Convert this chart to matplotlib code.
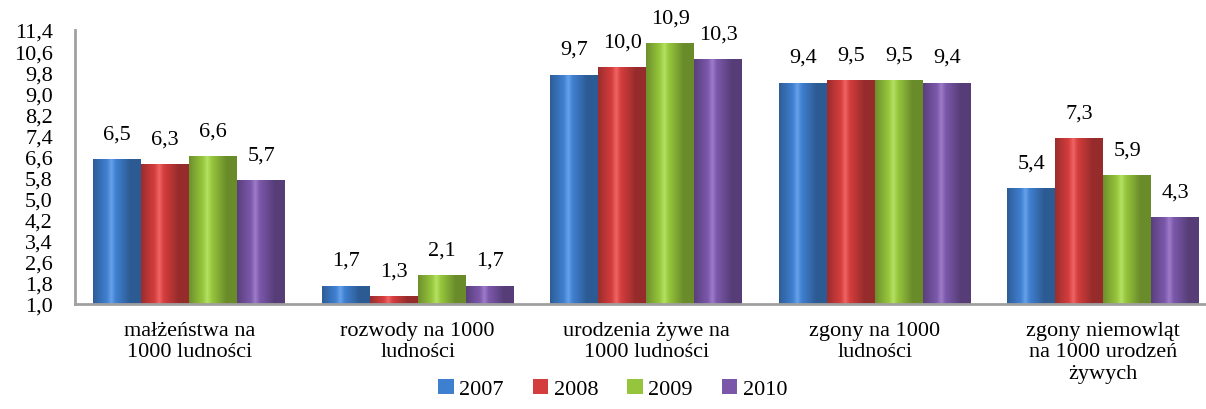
import numpy as np
from matplotlib import pyplot as plt
from matplotlib.colors import to_rgb
from matplotlib.patches import Patch

# Data
categories = ['małżeństwa na\n1000 ludności', 'rozwody na 1000\nludności',
              'urodzenia żywe na\n1000 ludności', 'zgony na 1000\nludności',
              'zgony niemowląt\nna 1000 urodzeń\nżywych']
years = ['2007', '2008', '2009', '2010']
v2007 = [6.5, 1.7, 9.7, 9.4, 5.4]
v2008 = [6.3, 1.3, 10.0, 9.5, 7.3]
v2009 = [6.6, 2.1, 10.9, 9.5, 5.9]
v2010 = [5.7, 1.7, 10.3, 9.4, 4.3]
series = [v2007, v2008, v2009, v2010]
yticks = np.round(np.arange(1.0, 11.41, 0.8), 1)

colors = ['#3f7fcf', '#d43d3d', '#95c53c', '#7b57aa']
base = 1.0

plt.rcParams['font.family'] = ['Liberation Serif', 'DejaVu Serif']

fig = plt.figure(figsize=(12.06, 4.10), dpi=100)
ax = fig.add_axes([75/1206, 1 - 305/410, 1131/1206, 274/410])

def shade(color):
	# horizontal cylinder-like gradient
	c = np.array(to_rgb(color))
	t = np.linspace(0, 1, 64)
	light = 1 - 1.6 * np.abs(t - 0.38)
	light = np.clip(light, 0.35, 1.0)
	rgb = np.empty((1, 64, 3))
	for i in range(64):
		f = light[i]
		col = c * (0.5 + 0.6 * f)
		if f > 0.85:
			col = col + (1 - col) * (f - 0.85) * 1.2
		rgb[0, i] = np.clip(col, 0, 1)
	return rgb

x = np.arange(len(categories))
w = 0.21
for i, vals in enumerate(series):
	pos = x + (i - 1.5) * w
	heights = np.array(vals) - base
	bars = ax.bar(pos, heights, width=w, bottom=base, color='none', zorder=2)
	img = shade(colors[i])
	for b, v in zip(bars, vals):
		x0, y0 = b.get_x(), b.get_y()
		im = ax.imshow(img, extent=(x0, x0 + b.get_width(), y0, y0 + b.get_height()),
					   aspect='auto', zorder=2, interpolation='bilinear')
		im.set_clip_path(b)
		ax.text(x0 + b.get_width() / 2, v + 0.6, f'{v:.1f}'.replace('.', ','),
				ha='center', va='bottom', fontsize=16)

ax.set_xlim(-0.5, 4.45)
ax.set_ylim(base, 11.4)
ax.set_yticks(yticks)
ax.set_yticklabels([f'{t:.1f}'.replace('.', ',') for t in yticks], fontsize=16)
ax.set_xticks(x)
ax.set_xticklabels(categories, fontsize=16, va='top', linespacing=1.2)
ax.tick_params(axis='both', length=0)
ax.tick_params(axis='x', pad=12)
ax.tick_params(axis='y', pad=16)
for s in ['top', 'right']:
	ax.spines[s].set_visible(False)
for s in ['left', 'bottom']:
	ax.spines[s].set_color('#a0a0a0')
	ax.spines[s].set_linewidth(2)

handles = [Patch(facecolor=c, edgecolor='none') for c in colors]
fig.legend(handles, years, loc='lower center', bbox_to_anchor=(0.508, -0.025), ncol=4,
		   frameon=False, fontsize=16, handlelength=0.7, handleheight=0.7,
		   handletextpad=0.25, columnspacing=1.3)

fig.savefig('out.png', dpi=100)
